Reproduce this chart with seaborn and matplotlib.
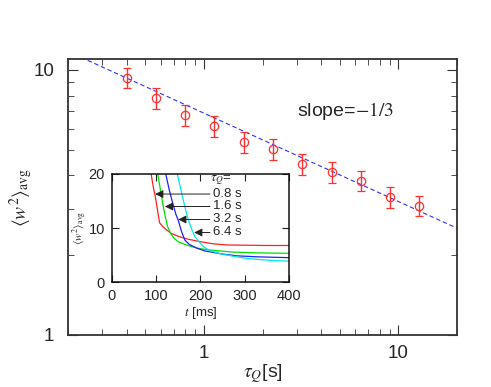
import numpy as np
import pandas as pd
import seaborn as sns
import matplotlib.pyplot as plt
from matplotlib.ticker import LogLocator, NullFormatter, FixedLocator

# main panel: quench time vs averaged squared width
tau_q = [0.4, 0.566, 0.8, 1.13, 1.6, 2.26, 3.2, 4.53, 6.4, 9.05, 12.8]
w2_avg = [9.35, 7.82, 6.75, 6.15, 5.34, 5.02, 4.42, 4.13, 3.82, 3.31, 3.08]
w2_err = [0.8, 0.7, 0.6, 0.55, 0.48, 0.45, 0.4, 0.37, 0.34, 0.3, 0.28]

# fitted power law, slope -1/3
fit_x = [0.2, 20.0]
fit_y = [11.75, 2.53]

# inset: time traces for several quench times
t_08 = [85, 89, 94, 98, 103, 108, 115, 125, 135, 150, 170, 200, 230, 260, 300, 350, 400]
w_08 = [24, 20, 17.5, 16, 13.5, 11, 10.3, 9.6, 9.0, 8.5, 8.0, 7.5, 7.1, 6.9, 6.85, 6.8, 6.8]
t_16 = [100, 104, 110, 115, 120, 126, 133, 140, 150, 165, 180, 200, 230, 270, 320, 400]
w_16 = [24, 20, 17, 14.6, 12.5, 10.3, 9.0, 8.2, 7.5, 7.0, 6.6, 6.2, 5.9, 5.6, 5.45, 5.35]
t_32 = [118, 122, 130, 138, 145, 150, 157, 165, 175, 192, 210, 244, 280, 330, 400]
w_32 = [24, 20, 17, 14.5, 12.5, 11.5, 9.5, 7.8, 7.0, 6.3, 5.8, 5.3, 4.9, 4.7, 4.55]
t_64 = [143, 148, 155, 162, 169, 175, 182, 188, 198, 207, 220, 244, 275, 305, 350, 400]
w_64 = [24, 20, 17.5, 15, 12.7, 11, 9.5, 8.4, 7.4, 6.6, 5.9, 5.3, 4.8, 4.4, 4.1, 3.9]

labels = ['0.8 s', '1.6 s', '3.2 s', '6.4 s']
colors = ['#ff2020', '#00e000', '#2020ff', '#00e8e8']
label_y = [16.3, 14.0, 11.6, 9.2]
arrow_t = [98, 120, 150, 186]

sns.set_style('ticks')
plt.rcParams['font.family'] = ['Liberation Sans', 'DejaVu Sans']
plt.rcParams['mathtext.fontset'] = 'stix'
plt.rcParams['xtick.direction'] = 'in'
plt.rcParams['ytick.direction'] = 'in'

fig = plt.figure(figsize=(4.91, 3.87), dpi=100)
ax = fig.add_axes([0.1385, 0.1344, 0.7923, 0.7131])

ax.errorbar(tau_q, w2_avg, yerr=w2_err, fmt='o', ms=6, mfc='none', mec='#ff3030',
            ecolor='#ff3030', elinewidth=1, capsize=3, capthick=1, mew=0.9, zorder=3)
sns.lineplot(x=fit_x, y=fit_y, ax=ax, color='#3030ff', lw=0.8, dashes=(4, 2.5), zorder=2)

ax.set_xscale('log')
ax.set_yscale('log')
ax.set_xlim(0.2, 20)
ax.set_ylim(1, 11)
ax.xaxis.set_major_locator(FixedLocator([1, 10]))
ax.set_xticklabels(['1', '10'])
ax.yaxis.set_major_locator(FixedLocator([1, 10]))
ax.set_yticklabels(['1', '10'])
ax.xaxis.set_minor_locator(LogLocator(base=10, subs=np.arange(2, 10)))
ax.yaxis.set_minor_locator(LogLocator(base=10, subs=np.arange(2, 10)))
ax.xaxis.set_minor_formatter(NullFormatter())
ax.yaxis.set_minor_formatter(NullFormatter())
ax.tick_params(which='both', top=True, right=True, labelsize=13.5, color='#333333')
ax.tick_params(axis='x', which='major', length=7, pad=7)
ax.tick_params(axis='y', which='major', length=7, pad=10)
ax.tick_params(which='minor', length=4)
for s in ax.spines.values():
    s.set_linewidth(1.3)
    s.set_color('#333333')
ax.set_xlabel(r'$\tau_Q$[s]', fontsize=14, labelpad=0)
ax.set_ylabel(r'$\langle w^2\rangle_{\rm avg}$', fontsize=14)
ax.yaxis.set_label_coords(-0.085, 0.5)
ax.text(0.588, 0.795, r'slope=$-1/3$', transform=ax.transAxes, fontsize=14)

# inset
ins = fig.add_axes([0.2275, 0.2705, 0.3611, 0.2799])
traces = [(t_08, w_08), (t_16, w_16), (t_32, w_32), (t_64, w_64)]
for (tt, ww), c in zip(traces, colors):
    df = pd.DataFrame({'t': tt, 'w': ww})
    sns.lineplot(data=df, x='t', y='w', ax=ins, color=c, lw=0.9, sort=False)
ins.set_xlim(0, 400)
ins.set_ylim(0, 20)
ins.set_xticks([0, 100, 200, 300, 400])
ins.set_yticks([0, 10, 20])
ins.tick_params(top=True, right=True, labelsize=10.5, length=5, pad=5, color='#222222')
for s in ins.spines.values():
    s.set_linewidth(1.1)
    s.set_color('#111111')
ins.set_xlabel(r'$t$ [ms]', fontsize=9.5, labelpad=1)
ins.set_ylabel(r'$\langle w^2\rangle_{\rm avg}$', fontsize=8)
ins.yaxis.set_label_coords(-0.125, 0.5)

ins.text(222, 18.9, r'$\tau_Q$=', fontsize=9.5, va='center')
for lab, ly, at in zip(labels, label_y, arrow_t):
    ins.annotate(lab, xy=(at, ly), xytext=(229, ly), fontsize=9.5, va='center',
                 arrowprops=dict(arrowstyle='-|>', color='#222222', lw=0.7,
                                 mutation_scale=12, shrinkA=0, shrinkB=0))

fig.savefig('out.png', dpi=100)
